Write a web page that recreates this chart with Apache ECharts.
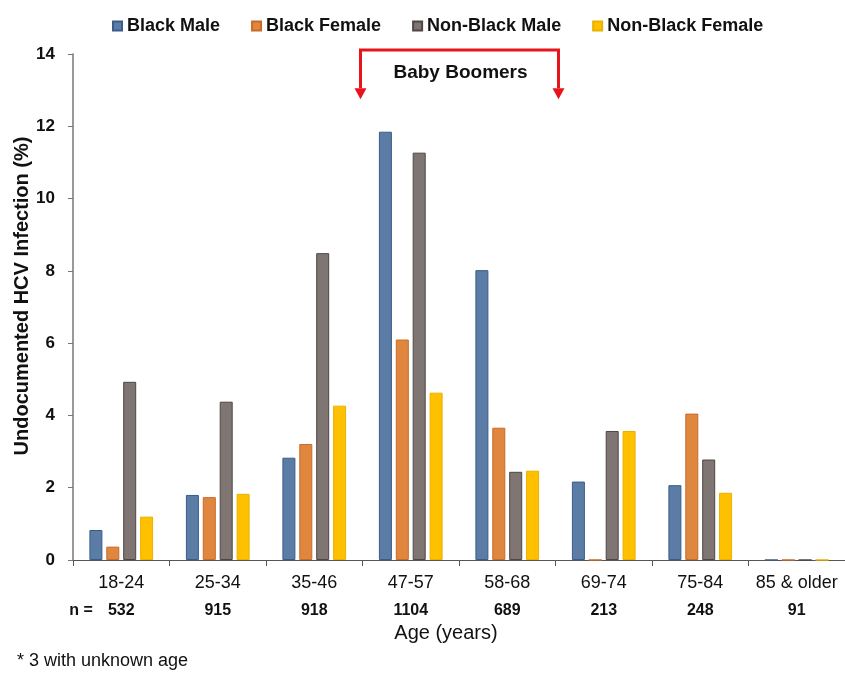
<!DOCTYPE html>
<html>
<head>
<meta charset="utf-8">
<script src="https://cdn.jsdelivr.net/npm/echarts@6/dist/echarts.min.js"></script>
<style>
html,body{margin:0;padding:0;background:#fff;}
#chart{width:845px;height:673px;}
</style>
</head>
<body>
<div id="chart"></div>
<script>
const categories = ['18-24','25-34','35-46','47-57','58-68','69-74','75-84','85 & older'];
const sampleSizes = ['532','915','918','1104','689','213','248','91'];
const blackMale = [0.83, 1.80, 2.83, 11.85, 8.02, 2.17, 2.07, 0];
const blackFemale = [0.37, 1.74, 3.21, 6.10, 3.66, 0, 4.05, 0];
const nonBlackMale = [4.93, 4.38, 8.49, 11.27, 2.44, 3.57, 2.78, 0];
const nonBlackFemale = [1.20, 1.83, 4.27, 4.63, 2.47, 3.57, 1.86, 0];
const yTicks = [0, 2, 4, 6, 8, 10, 12, 14];

const FONT = '"Liberation Sans", Arial, sans-serif';
const chart = echarts.init(document.getElementById('chart'));

function bar(name, data, color, border) {
  return {
    name, type: 'bar', data,
    barWidth: 13, barGap: '30%',
    itemStyle: { color, borderColor: border, borderWidth: 1 },
    emphasis: { disabled: true }
  };
}

const option = {
  animation: false,
  backgroundColor: '#fff',
  textStyle: { fontFamily: FONT },
  legend: {
    left: 107, top: 12,
    itemWidth: 9, itemHeight: 9, itemGap: 31,
    icon: 'rect',
    textStyle: { fontFamily: FONT, fontSize: 18, fontWeight: 'bold', color: '#111' },
    data: ['Black Male', 'Black Female', 'Non-Black Male', 'Non-Black Female']
  },
  grid: { left: 73, right: -2, top: 54, bottom: 113, containLabel: false },
  xAxis: {
    type: 'category',
    data: categories,
    name: 'Age (years)',
    nameLocation: 'middle',
    nameGap: 63,
    nameTextStyle: { fontFamily: FONT, fontSize: 20, color: '#111', padding: [0, 26, 0, 0] },
    axisLine: { lineStyle: { color: '#555', width: 1 } },
    axisTick: { show: true, interval: 0, length: 6, lineStyle: { color: '#555' } },
    axisLabel: {
      interval: 0, margin: 11,
      formatter: function (v, i) { return '{a|' + v + '}\n{b|' + sampleSizes[i] + '}'; },
      rich: {
        a: { fontFamily: FONT, fontSize: 18, color: '#111', lineHeight: 24 },
        b: { fontFamily: FONT, fontSize: 16, fontWeight: 'bold', color: '#111', lineHeight: 32 }
      }
    }
  },
  yAxis: {
    type: 'value',
    min: yTicks[0], max: yTicks[yTicks.length - 1], interval: 2,
    axisLine: { show: true, lineStyle: { color: '#777', width: 1.5 } },
    axisTick: { show: true, inside: false, length: 5, lineStyle: { color: '#777' } },
    splitLine: { show: false },
    axisLabel: { margin: 18, fontFamily: FONT, fontSize: 17, fontWeight: 'bold', color: '#111' }
  },
  series: [
    bar('Black Male', blackMale, '#5A7CA5', '#3B5C88'),
    bar('Black Female', blackFemale, '#E0873F', '#C86A28'),
    bar('Non-Black Male', nonBlackMale, '#7F7572', '#4E4644'),
    bar('Non-Black Female', nonBlackFemale, '#FFC000', '#EBB000')
  ]
};
chart.setOption(option);

// Baby Boomers bracket spanning the 47-57 and 58-68 categories
const c1 = chart.convertToPixel({ xAxisIndex: 0 }, categories[3]);
const c2 = chart.convertToPixel({ xAxisIndex: 0 }, categories[4]);
const band = c2 - c1;
const xL = c1 - band / 2 - 2;
const xR = c2 + band / 2 + 3;
const yTop = chart.convertToPixel({ yAxisIndex: 0 }, 14) - 4;
const yTip = chart.convertToPixel({ yAxisIndex: 0 }, 12.75);
const red = '#E8141B';
const ah = 11, aw = 6;
chart.setOption({
  graphic: [
    { type: 'polyline', silent: true,
      shape: { points: [[xL, yTip - ah], [xL, yTop], [xR, yTop], [xR, yTip - ah]] },
      style: { stroke: red, lineWidth: 3, fill: null, lineJoin: 'miter' } },
    { type: 'polygon', silent: true,
      shape: { points: [[xL - aw, yTip - ah], [xL + aw, yTip - ah], [xL, yTip]] },
      style: { fill: red } },
    { type: 'polygon', silent: true,
      shape: { points: [[xR - aw, yTip - ah], [xR + aw, yTip - ah], [xR, yTip]] },
      style: { fill: red } },
    { type: 'text', silent: true, x: (xL + xR) / 2 + 1, y: 73,
      style: { text: 'Baby Boomers', fontFamily: FONT, fontSize: 19, fontWeight: 'bold', fill: '#111', align: 'center', verticalAlign: 'middle' } },
    { type: 'text', silent: true, x: 22, y: 296, rotation: Math.PI / 2,
      style: { text: 'Undocumented HCV Infection (%)', fontFamily: FONT, fontSize: 20, fontWeight: 'bold', fill: '#111', align: 'center', verticalAlign: 'middle' } },
    { type: 'text', silent: true, x: 81, y: 611,
      style: { text: 'n =', fontFamily: FONT, fontSize: 16, fontWeight: 'bold', fill: '#111', align: 'center', verticalAlign: 'middle' } },
    { type: 'text', silent: true, x: 17, y: 661,
      style: { text: '* 3 with unknown age', fontFamily: FONT, fontSize: 18, fill: '#111', align: 'left', verticalAlign: 'middle' } }
  ]
});
</script>
</body>
</html>
